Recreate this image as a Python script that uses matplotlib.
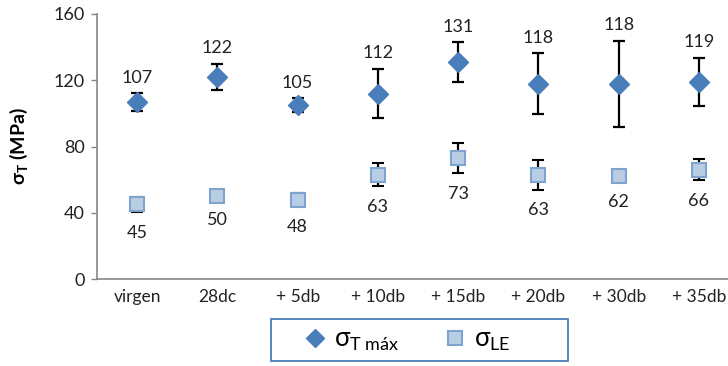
import matplotlib
matplotlib.use("Agg")
import matplotlib.pyplot as plt
from matplotlib.lines import Line2D
from matplotlib.patches import Rectangle
import numpy as np

plt.rcParams['font.family'] = ['Lato', 'DejaVu Sans']
plt.rcParams['mathtext.fontset'] = 'custom'
plt.rcParams['mathtext.rm'] = 'Lato'
plt.rcParams['mathtext.it'] = 'Lato'
plt.rcParams['mathtext.bf'] = 'Lato:bold'

categories = ["virgen", "28dc", "+ 5db", "+ 10db", "+ 15db", "+ 20db", "+ 30db", "+ 35db"]
sigma_tmax = [107, 122, 105, 112, 131, 118, 118, 119]
sigma_tmax_err = [5.4, 8, 4.4, 15, 12, 18.5, 26, 14.7]
sigma_le = [45, 50, 48, 63, 73, 63, 62, 66]
sigma_le_err = [4.5, 2, 4, 7, 9, 9, 3, 6.5]

dark_blue = "#4A7EBB"
light_fill = "#B9CDE5"
light_edge = "#7EA3CF"
text_color = "#222222"

W, H = 728, 366
fig = plt.figure(figsize=(W / 100, H / 100), dpi=100)
ax = fig.add_axes([97 / W, 1 - 279 / H, 642 / W, 265 / H])

x = np.arange(len(categories))

ax.errorbar(x, sigma_tmax, yerr=sigma_tmax_err, fmt='D', color=dark_blue,
            markersize=10.5, markeredgecolor=dark_blue, ecolor='black',
            elinewidth=1.6, capsize=4, capthick=1.6, zorder=3)
ax.errorbar(x, sigma_le, yerr=sigma_le_err, fmt='s', markerfacecolor=light_fill,
            markeredgecolor=light_edge, markeredgewidth=1.5, markersize=10,
            ecolor='black', elinewidth=1.6, capsize=4, capthick=1.6, zorder=3)

# value labels: above the upper whisker for the maximum stress, below the lower one for sigma_LE
for xi, v, e in zip(x, sigma_tmax, sigma_tmax_err):
    ax.annotate(f"{v}", (xi, v + e), xytext=(0, 11), textcoords='offset points',
                ha='center', va='center', fontsize=13, color=text_color)
for xi, v, e in zip(x, sigma_le, sigma_le_err):
    ax.annotate(f"{v}", (xi, v - e), xytext=(0, -15), textcoords='offset points',
                ha='center', va='center', fontsize=13, color=text_color)

ax.set_xlim(-0.5, len(categories) - 0.5)
ax.set_ylim(0, 160)
ax.set_yticks([0, 40, 80, 120, 160])
ax.set_xticks(x)
ax.set_xticklabels(categories)
ax.tick_params(axis='x', length=0, pad=7, labelsize=12.5, colors=text_color)
ax.tick_params(axis='y', length=4, width=1, color='#868686', pad=5, labelsize=13,
               labelcolor=text_color)

for side in ('top', 'right'):
    ax.spines[side].set_visible(False)
for side in ('left', 'bottom'):
    ax.spines[side].set_color('#868686')
    ax.spines[side].set_linewidth(1.2)

ax.set_ylabel(r'$\mathbf{\sigma}_{\mathbf{T}}$ (MPa)', fontsize=14, fontweight='bold',
              labelpad=17)

# legend box
fig.patches.append(Rectangle((271 / W, 1 - 361 / H), 297 / W, 42 / H,
                             transform=fig.transFigure, fill=False,
                             edgecolor=dark_blue, linewidth=1.3))

handles = [
    Line2D([], [], linestyle='none', marker='D', markersize=9, color=dark_blue,
           markeredgecolor=dark_blue),
    Line2D([], [], linestyle='none', marker='s', markersize=10, markerfacecolor=light_fill,
           markeredgecolor=light_edge, markeredgewidth=1.5),
]
labels = [r'$\sigma_{\mathrm{T\ máx}}$', r'$\sigma_{\mathrm{LE}}$']
fig.legend(handles, labels, loc='center left', bbox_to_anchor=(303 / W, 1 - 340 / H),
           ncol=2, frameon=False, fontsize=18.5, handletextpad=0.3,
           columnspacing=1.7, borderpad=0, handlelength=0.9, borderaxespad=0)

fig.savefig("out.png", dpi=100)
